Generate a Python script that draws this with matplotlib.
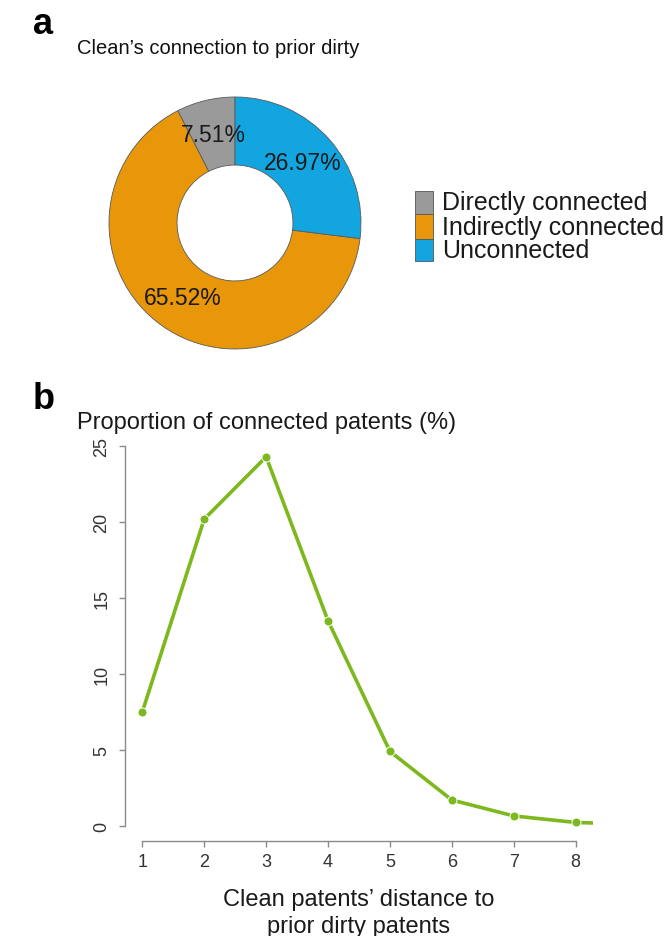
import matplotlib
matplotlib.use("Agg")
import matplotlib.pyplot as plt
from matplotlib.patches import Rectangle

plt.rcParams['font.family'] = ['Liberation Sans', 'DejaVu Sans']

# panel a data
categories = ["Directly connected", "Indirectly connected", "Unconnected"]
shares = [7.51, 65.52, 26.97]
colors = ["#9a9a9a", "#e8960a", "#12a5e0"]

# panel b data
distance = [1, 2, 3, 4, 5, 6, 7, 8, 9]
proportion = [7.5, 20.2, 24.3, 13.5, 4.9, 1.7, 0.65, 0.22, 0.1]
xticks = [1, 2, 3, 4, 5, 6, 7, 8]
yticks = [0, 5, 10, 15, 20, 25]

W, H = 670, 937
fig = plt.figure(figsize=(W / 100, H / 100), dpi=100)


def box(x0, y0, x1, y1):
    # pixel box (top-left origin) -> figure fraction rect
    return [x0 / W, 1 - y1 / H, (x1 - x0) / W, (y1 - y0) / H]


# ---- panel a: donut ----
cx, cy, r = 235, 224, 126
ax1 = fig.add_axes(box(cx - r, cy - r, cx + r, cy + r))
wedges, _, autotexts = ax1.pie(
    shares, colors=colors, startangle=90, counterclock=True,
    autopct="%.2f%%", pctdistance=0.72, radius=1,
    wedgeprops=dict(width=0.54, edgecolor="#5a5a5a", linewidth=0.6))
for t in autotexts:
    t.set_fontsize(16.5)
    t.set_color("#1a1a1a")
ax1.set_xlim(-1, 1)
ax1.set_ylim(-1, 1)
ax1.set_aspect("equal")
ax1.axis("off")

fig.text(33 / W, 1 - 25 / H, "a", fontsize=26, fontweight="bold", va="center", ha="left")
fig.text(77 / W, 1 - 48 / H, "Clean\u2019s connection to prior dirty", fontsize=14.5,
         va="center", ha="left", color="#111111")

# legend drawn by hand (tight rows like the original)
row_tops = [192, 215, 240]
row_h = [23, 25, 22]
for name, col, top, h in zip(categories, colors, row_tops, row_h):
    fig.patches.append(Rectangle((415 / W, 1 - (top + h) / H), 18 / W, h / H,
                                 transform=fig.transFigure, facecolor=col,
                                 edgecolor="#555555", linewidth=0.6))
    fig.text(442 / W, 1 - (top + h / 2) / H, name, fontsize=18,
             va="center", ha="left", color="#1a1a1a")

# ---- panel b: line chart ----
ax2 = fig.add_axes(box(125, 432, 593, 842))
ax2.plot(distance, proportion, color="#7cb81e", linewidth=2.6, marker="o",
         markersize=6.5, markeredgecolor="white", markeredgewidth=0.7)
ax2.set_xlim(0.72, 8.28)
ax2.set_ylim(-1, 26)
ax2.set_xticks(xticks)
ax2.set_yticks(yticks)
ax2.set_yticklabels([str(v) for v in yticks], rotation=90, va="center")
for side in ["top", "right"]:
    ax2.spines[side].set_visible(False)
ax2.spines["left"].set_bounds(0, 25)
ax2.spines["bottom"].set_bounds(1, 8)
for side in ["left", "bottom"]:
    ax2.spines[side].set_color("#8a8a8a")
    ax2.spines[side].set_linewidth(1.0)
ax2.tick_params(axis="both", colors="#8a8a8a", length=4.5, width=1.0,
                labelsize=13, labelcolor="#333333")
ax2.tick_params(axis="y", pad=6)
ax2.tick_params(axis="x", pad=4)
ax2.set_xlabel("Clean patents\u2019 distance to\nprior dirty patents", fontsize=17,
               linespacing=1.3, labelpad=13, color="#1a1a1a")

fig.text(33 / W, 1 - 400 / H, "b", fontsize=26, fontweight="bold", va="center", ha="left")
fig.text(77 / W, 1 - 423 / H, "Proportion of connected patents (%)", fontsize=17,
         va="center", ha="left", color="#1a1a1a")

fig.savefig("out.png", dpi=100)
